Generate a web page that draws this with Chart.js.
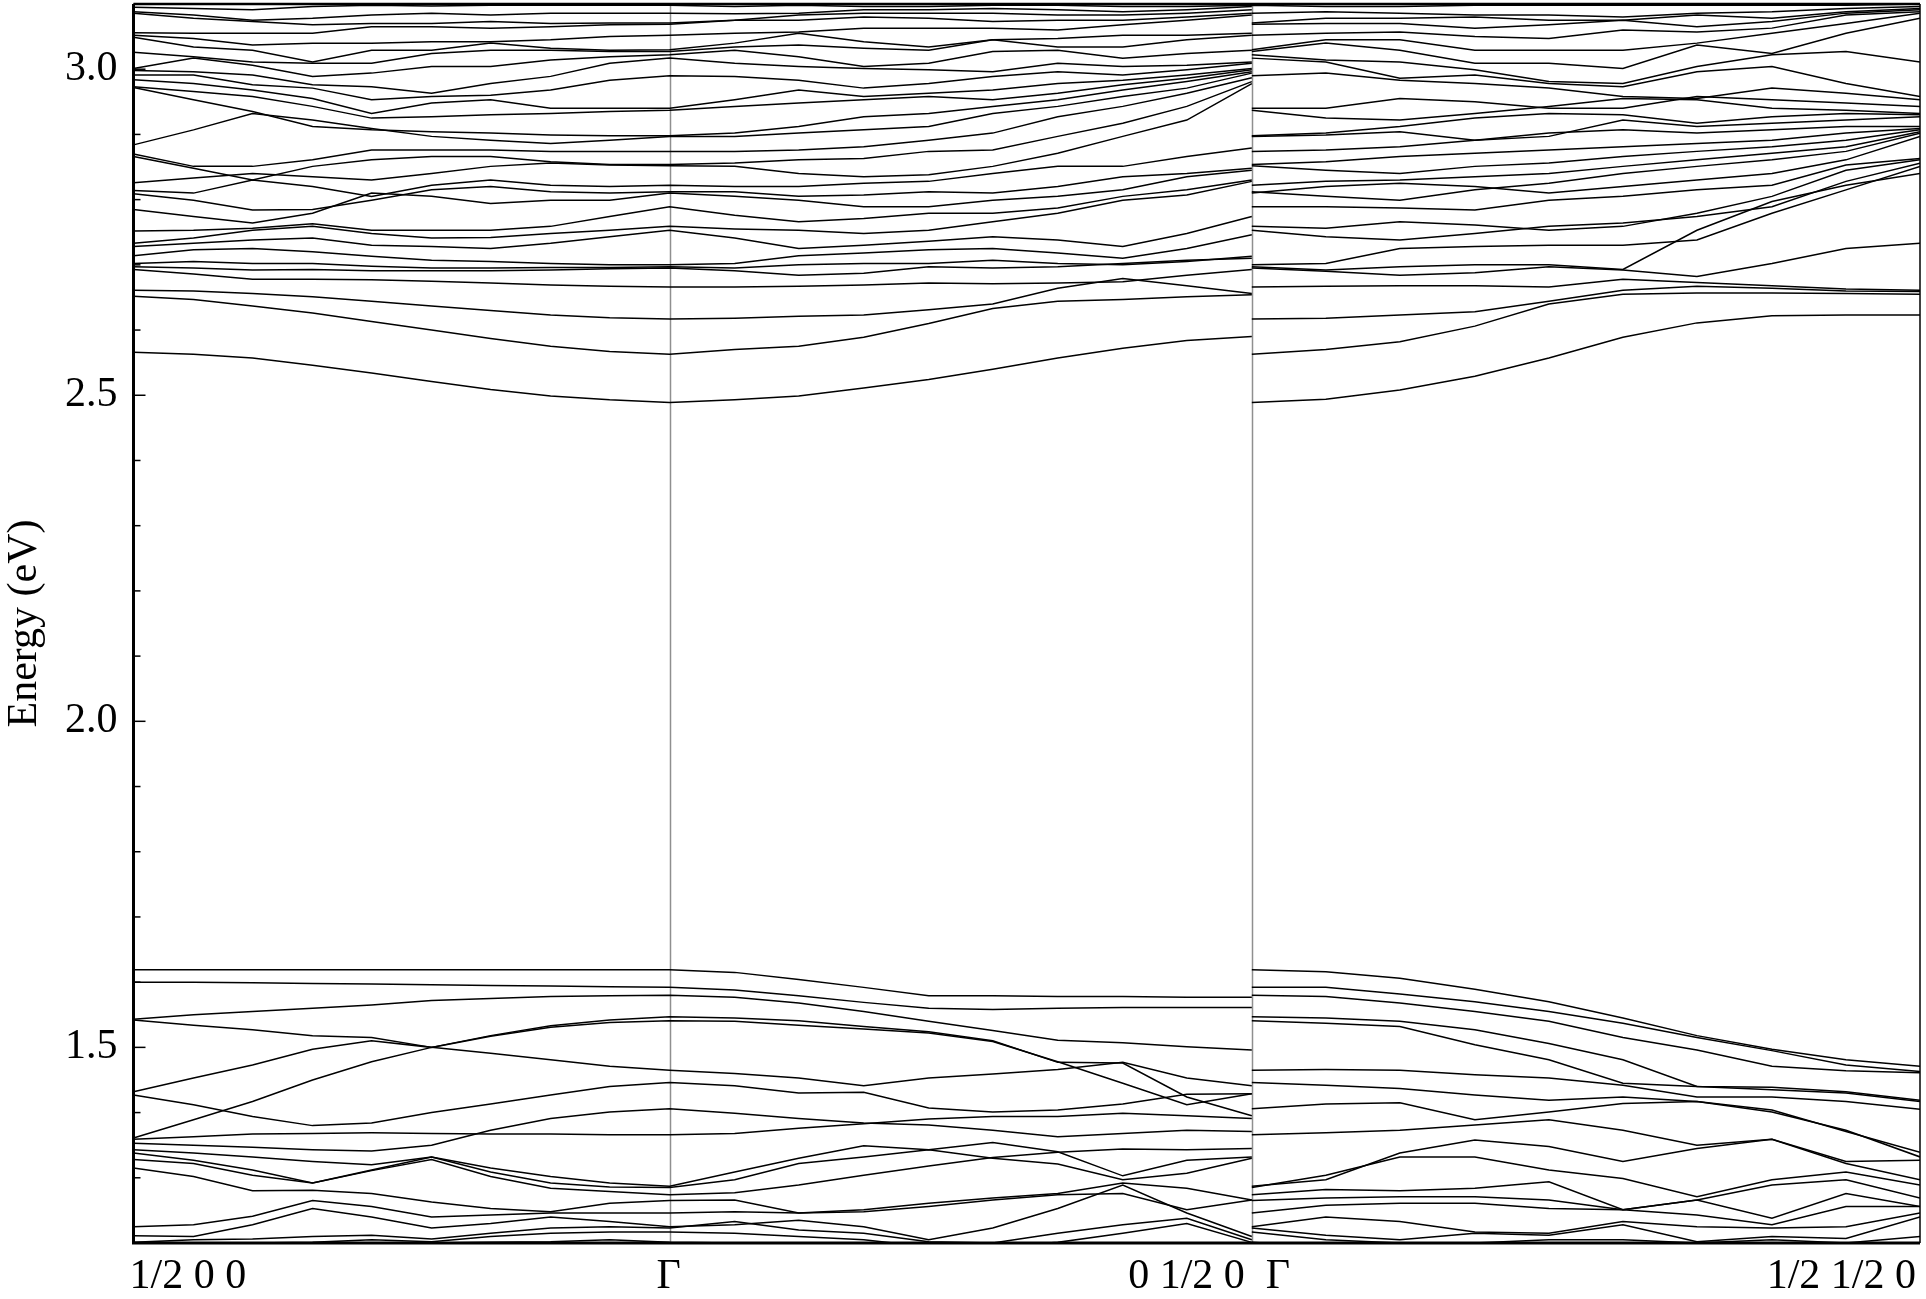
<!DOCTYPE html>
<html>
<head>
<meta charset="utf-8">
<title>Band structure</title>
<script src="https://cdn.jsdelivr.net/npm/chart.js@4.4.0/dist/chart.umd.min.js"></script>
<style>
  html, body { margin: 0; padding: 0; background: #fff; }
  #wrap { width: 1926px; height: 1299px; }
</style>
</head>
<body>
<div id="wrap"><canvas id="bandChart"></canvas></div>
<script>
(() => {
  'use strict'

  // k-path distances; seg1: 1/2 0 0 -> Γ, seg2: Γ -> 0 1/2 0, seg3: Γ -> 1/2 1/2 0
  const kSeg1 = [0.000, 0.060, 0.119, 0.179, 0.238, 0.298, 0.357, 0.417, 0.476, 0.536];
  const kSeg2 = [0.601, 0.665, 0.730, 0.795, 0.859, 0.924, 0.989, 1.053, 1.118];
  const kSeg3 = [1.192, 1.266, 1.341, 1.415, 1.489, 1.563, 1.638, 1.712, 1.786];
  const kDividers = [0.536, 1.118];
  const kLabelText = ['1/2 0 0', 'Γ', '0 1/2 0', 'Γ', '1/2 1/2 0'];
  const kLabelPos = [0.000, 0.536, 1.118, 1.118, 1.786];
  const energyLabels = [1.5, 2.0, 2.5, 3.0];

  // each band: 10 values on seg1 (Γ last), 9 on seg2, 9 on seg3 (all in eV)
  const vb01 = [1.619,1.619,1.619,1.619,1.619,1.619,1.619,1.619,1.619,1.619, 1.615,1.604,1.592,1.579,1.579,1.578,1.578,1.577,1.577, 1.616,1.606,1.589,1.570,1.545,1.518,1.497,1.481,1.471];
  const vb02 = [1.600,1.600,1.599,1.598,1.597,1.596,1.595,1.594,1.593,1.592, 1.588,1.579,1.569,1.560,1.558,1.560,1.561,1.561,1.561, 1.592,1.582,1.570,1.555,1.537,1.515,1.495,1.473,1.463];
  const vb03 = [1.543,1.550,1.555,1.560,1.565,1.572,1.575,1.578,1.579,1.580, 1.577,1.568,1.555,1.540,1.526,1.511,1.507,1.501,1.496, 1.578,1.568,1.555,1.540,1.515,1.496,1.471,1.464,1.461];
  const vb04 = [1.542,1.534,1.527,1.518,1.515,1.500,1.491,1.481,1.471,1.465, 1.460,1.453,1.441,1.453,1.459,1.466,1.477,1.453,1.441, 1.466,1.465,1.458,1.453,1.442,1.424,1.424,1.417,1.405];
  const vb05 = [1.432,1.453,1.473,1.497,1.510,1.500,1.517,1.531,1.538,1.541, 1.540,1.534,1.528,1.522,1.509,1.478,1.445,1.412,1.429, 1.537,1.532,1.504,1.481,1.445,1.440,1.435,1.430,1.417];
  const vb06 = [1.361,1.389,1.417,1.450,1.478,1.500,1.518,1.533,1.542,1.547, 1.545,1.541,1.532,1.524,1.510,1.477,1.476,1.424,1.395, 1.545,1.540,1.527,1.506,1.481,1.440,1.439,1.432,1.419];
  const vb07 = [1.427,1.412,1.394,1.380,1.384,1.400,1.413,1.427,1.440,1.446, 1.441,1.430,1.431,1.407,1.401,1.404,1.413,1.428,1.429, 1.442,1.437,1.427,1.419,1.424,1.417,1.404,1.371,1.339];
  const vb08 = [1.353,1.350,1.347,1.343,1.341,1.350,1.373,1.391,1.401,1.406, 1.399,1.391,1.384,1.381,1.373,1.363,1.368,1.373,1.371, 1.413,1.415,1.389,1.401,1.414,1.417,1.401,1.373,1.332];
  const vb09 = [1.359,1.363,1.367,1.368,1.369,1.368,1.367,1.367,1.366,1.366, 1.368,1.376,1.383,1.390,1.394,1.394,1.399,1.395,1.391, 1.369,1.373,1.381,1.389,1.373,1.350,1.359,1.325,1.327];
  const vb10 = [1.343,1.338,1.332,1.325,1.320,1.332,1.315,1.302,1.292,1.287, 1.309,1.330,1.349,1.343,1.354,1.340,1.303,1.327,1.332, 1.297,1.338,1.358,1.348,1.325,1.345,1.359,1.322,1.297];
  const vb11 = [1.338,1.327,1.312,1.292,1.312,1.332,1.309,1.292,1.286,1.285, 1.297,1.322,1.332,1.343,1.330,1.321,1.297,1.307,1.330, 1.304,1.332,1.332,1.312,1.299,1.271,1.297,1.309,1.289];
  const vb12 = [1.328,1.322,1.304,1.292,1.311,1.328,1.302,1.284,1.279,1.274, 1.277,1.289,1.304,1.318,1.331,1.339,1.344,1.343,1.345, 1.282,1.280,1.284,1.294,1.251,1.266,1.289,1.297,1.269];
  const vb13 = [1.315,1.302,1.280,1.281,1.276,1.263,1.253,1.248,1.261,1.265, 1.266,1.246,1.251,1.261,1.269,1.276,1.292,1.284,1.266, 1.269,1.271,1.271,1.266,1.251,1.266,1.238,1.276,1.256];
  const vb14 = [1.225,1.228,1.241,1.265,1.256,1.240,1.243,1.246,1.246,1.246, 1.248,1.246,1.248,1.256,1.266,1.274,1.276,1.251,1.266, 1.258,1.261,1.261,1.253,1.251,1.243,1.228,1.256,1.256];
  const vb15 = [1.211,1.210,1.228,1.253,1.240,1.223,1.230,1.240,1.233,1.225, 1.228,1.235,1.225,1.205,1.223,1.253,1.289,1.246,1.210, 1.240,1.233,1.217,1.215,1.233,1.225,1.223,1.225,1.246];
  const vb16 = [1.201,1.205,1.206,1.210,1.212,1.206,1.215,1.223,1.225,1.223, 1.233,1.220,1.215,1.202,1.200,1.215,1.228,1.238,1.205, 1.212,1.205,1.215,1.212,1.228,1.202,1.210,1.207,1.240];
  const vb17 = [1.194,1.197,1.200,1.201,1.205,1.202,1.210,1.215,1.217,1.217, 1.215,1.210,1.205,1.194,1.194,1.201,1.215,1.230,1.201, 1.205,1.200,1.200,1.205,1.205,1.200,1.205,1.200,1.210];
  const vb18 = [1.189,1.192,1.194,1.197,1.197,1.200,1.201,1.202,1.205,1.201, 1.200,1.194,1.189,1.189,1.189,1.189,1.200,1.189,1.189, 1.194,1.194,1.194,1.194,1.197,1.194,1.194,1.194,1.197];

  const cb01 = [2.566,2.563,2.557,2.546,2.534,2.521,2.509,2.499,2.493,2.489, 2.493,2.499,2.511,2.524,2.540,2.557,2.572,2.584,2.590, 2.494,2.508,2.529,2.557,2.589,2.611,2.622,2.623,2.623];
  const cb02 = [2.652,2.647,2.637,2.626,2.613,2.600,2.587,2.575,2.567,2.563, 2.570,2.575,2.589,2.610,2.633,2.644,2.647,2.651,2.654, 2.570,2.582,2.606,2.640,2.655,2.657,2.657,2.656,2.655];
  const cb03 = [2.661,2.660,2.656,2.651,2.644,2.637,2.630,2.623,2.619,2.617, 2.618,2.621,2.623,2.631,2.640,2.664,2.679,2.668,2.656, 2.618,2.623,2.628,2.644,2.661,2.667,2.664,2.660,2.659];
  const cb04 = [2.693,2.686,2.678,2.678,2.677,2.675,2.672,2.669,2.667,2.666, 2.666,2.667,2.669,2.672,2.671,2.672,2.674,2.684,2.693, 2.667,2.668,2.668,2.666,2.678,2.673,2.668,2.663,2.661];
  const cb05 = [2.697,2.695,2.692,2.693,2.691,2.691,2.691,2.692,2.694,2.695, 2.691,2.684,2.687,2.697,2.695,2.697,2.702,2.707,2.710, 2.690,2.684,2.688,2.697,2.692,2.682,2.702,2.725,2.733];
  const cb06 = [2.702,2.705,2.702,2.702,2.698,2.695,2.695,2.696,2.696,2.697, 2.695,2.700,2.702,2.702,2.707,2.702,2.700,2.705,2.713, 2.692,2.697,2.700,2.700,2.693,2.753,2.797,2.822,2.840];
  const cb07 = [2.714,2.723,2.725,2.720,2.713,2.707,2.705,2.702,2.700,2.700, 2.702,2.714,2.718,2.723,2.725,2.718,2.710,2.725,2.746, 2.702,2.725,2.728,2.730,2.730,2.738,2.779,2.815,2.851];
  const cb08 = [2.728,2.733,2.738,2.741,2.730,2.728,2.725,2.733,2.743,2.753, 2.741,2.725,2.730,2.736,2.743,2.738,2.728,2.748,2.774, 2.743,2.738,2.748,2.759,2.764,2.774,2.789,2.828,2.856];
  const cb09 = [2.733,2.741,2.753,2.759,2.748,2.741,2.742,2.748,2.753,2.759, 2.755,2.753,2.748,2.753,2.766,2.779,2.799,2.807,2.828, 2.756,2.766,2.761,2.753,2.759,2.779,2.805,2.845,2.861];
  const cb10 = [2.752,2.753,2.756,2.763,2.753,2.753,2.753,2.759,2.774,2.789, 2.776,2.766,2.771,2.779,2.779,2.787,2.805,2.815,2.830, 2.789,2.787,2.784,2.799,2.805,2.815,2.822,2.853,2.863];
  const cb11 = [2.785,2.774,2.764,2.779,2.810,2.805,2.794,2.799,2.799,2.810, 2.805,2.799,2.789,2.789,2.799,2.805,2.815,2.835,2.845, 2.820,2.825,2.820,2.810,2.820,2.830,2.840,2.861,2.897];
  const cb12 = [2.809,2.799,2.784,2.785,2.799,2.815,2.820,2.812,2.810,2.812, 2.812,2.805,2.807,2.812,2.810,2.820,2.835,2.840,2.848, 2.805,2.799,2.815,2.825,2.840,2.851,2.861,2.874,2.902];
  const cb13 = [2.814,2.810,2.830,2.820,2.805,2.822,2.830,2.822,2.820,2.822, 2.820,2.820,2.825,2.828,2.840,2.851,2.851,2.866,2.879, 2.828,2.830,2.835,2.840,2.851,2.861,2.871,2.881,2.904];
  const cb14 = [2.826,2.833,2.840,2.835,2.830,2.840,2.851,2.856,2.853,2.852, 2.851,2.840,2.835,2.838,2.851,2.871,2.897,2.922,2.978, 2.845,2.840,2.851,2.856,2.866,2.874,2.881,2.891,2.907];
  const cb15 = [2.866,2.848,2.830,2.851,2.861,2.866,2.866,2.858,2.854,2.854, 2.856,2.861,2.863,2.874,2.876,2.897,2.917,2.943,2.981, 2.858,2.866,2.871,2.876,2.881,2.886,2.891,2.902,2.909];
  const cb16 = [2.870,2.851,2.851,2.861,2.876,2.876,2.876,2.874,2.874,2.874, 2.874,2.876,2.881,2.891,2.902,2.927,2.943,2.963,2.987, 2.876,2.881,2.891,2.902,2.907,2.902,2.907,2.912,2.912];
  const cb17 = [2.884,2.907,2.932,2.922,2.909,2.897,2.891,2.886,2.891,2.897, 2.897,2.902,2.907,2.912,2.932,2.943,2.958,2.971,2.994, 2.899,2.904,2.891,2.897,2.922,2.912,2.917,2.922,2.927];
  const cb18 = [2.972,2.953,2.935,2.912,2.907,2.904,2.902,2.899,2.898,2.898, 2.902,2.912,2.927,2.932,2.943,2.953,2.968,2.981,2.996, 2.902,2.912,2.925,2.932,2.930,2.917,2.927,2.932,2.930];
  const cb19 = [2.973,2.966,2.958,2.943,2.925,2.927,2.930,2.932,2.935,2.937, 2.943,2.948,2.953,2.958,2.953,2.963,2.976,2.986,2.999, 2.925,2.922,2.932,2.943,2.955,2.953,2.940,2.937,2.932];
  const cb20 = [2.984,2.978,2.968,2.955,2.932,2.948,2.953,2.940,2.940,2.940, 2.953,2.968,2.958,2.963,2.968,2.978,2.983,2.991,3.001, 2.940,2.955,2.950,2.940,2.940,2.958,2.953,2.948,2.943];
  const cb21 = [2.991,2.991,2.976,2.971,2.953,2.958,2.960,2.968,2.983,2.990, 2.989,2.983,2.971,2.978,2.989,2.996,2.991,2.999,3.009, 2.994,2.983,2.978,2.971,2.958,2.955,2.971,2.963,2.953];
  const cb22 = [2.998,2.996,2.991,2.976,2.973,2.963,2.978,2.989,3.009,3.017, 3.009,3.004,3.001,2.999,2.996,3.009,3.004,3.006,3.011, 3.011,2.986,2.991,2.978,2.973,2.996,3.004,2.978,2.958];
  const cb23 = [3.001,3.017,3.006,2.989,2.994,3.004,3.004,3.014,3.019,3.022, 3.029,3.019,3.004,3.009,3.027,3.029,3.017,3.024,3.029, 3.014,3.011,2.999,2.981,2.978,3.004,3.022,3.027,3.011];
  const cb24 = [3.026,3.019,3.011,3.009,3.009,3.024,3.029,3.029,3.027,3.027, 3.034,3.037,3.032,3.029,3.045,3.034,3.034,3.045,3.052, 3.040,3.029,3.009,3.009,3.001,3.037,3.024,3.055,3.078];
  const cb25 = [3.049,3.034,3.029,3.011,3.029,3.029,3.040,3.032,3.029,3.030, 3.040,3.055,3.042,3.034,3.045,3.047,3.052,3.052,3.055, 3.045,3.045,3.029,3.029,3.029,3.040,3.055,3.070,3.086];
  const cb26 = [3.052,3.047,3.037,3.040,3.040,3.042,3.042,3.045,3.050,3.052, 3.055,3.057,3.063,3.063,3.063,3.060,3.068,3.075,3.083, 3.055,3.057,3.050,3.047,3.060,3.057,3.063,3.083,3.088];
  const cb27 = [3.056,3.055,3.055,3.055,3.065,3.065,3.063,3.065,3.068,3.069, 3.075,3.075,3.080,3.078,3.073,3.075,3.075,3.080,3.086, 3.070,3.070,3.063,3.068,3.075,3.065,3.073,3.086,3.091];
  const cb28 = [3.086,3.078,3.073,3.068,3.070,3.070,3.073,3.070,3.071,3.071, 3.075,3.083,3.086,3.086,3.086,3.083,3.083,3.086,3.091, 3.078,3.078,3.080,3.075,3.075,3.083,3.078,3.088,3.093];
  const cb29 = [3.088,3.083,3.075,3.078,3.083,3.086,3.083,3.086,3.086,3.086, 3.085,3.086,3.091,3.091,3.093,3.091,3.088,3.091,3.096, 3.088,3.086,3.083,3.083,3.080,3.086,3.088,3.093,3.096];
  const cb30 = [3.095,3.093,3.091,3.096,3.098,3.097,3.098,3.098,3.098,3.098, 3.096,3.098,3.096,3.096,3.098,3.098,3.096,3.096,3.098, 3.096,3.096,3.098,3.098,3.098,3.098,3.098,3.098,3.100];

  const valenceBands = [vb01, vb02, vb03, vb04, vb05, vb06, vb07, vb08, vb09,
    vb10, vb11, vb12, vb13, vb14, vb15, vb16, vb17, vb18];
  const conductionBands = [cb01, cb02, cb03, cb04, cb05, cb06, cb07, cb08, cb09, cb10,
    cb11, cb12, cb13, cb14, cb15, cb16, cb17, cb18, cb19, cb20,
    cb21, cb22, cb23, cb24, cb25, cb26, cb27, cb28, cb29, cb30];

  const FONT = '"Liberation Serif", "Times New Roman", serif';
  const isMajor = v => energyLabels.some(l => Math.abs(l - v) < 1e-6);

  // seg3 restarts at Γ, so break the line after seg2
  const toPoints = band => {
    const pts = kSeg1.map((k, i) => ({ x: k, y: band[i] }));
    kSeg2.forEach((k, i) => pts.push({ x: k, y: band[10 + i] }));
    pts.push({ x: kDividers[1], y: null });
    pts.push({ x: kDividers[1], y: band[9] });
    kSeg3.forEach((k, i) => pts.push({ x: k, y: band[19 + i] }));
    return pts;
  };

  const datasets = valenceBands.concat(conductionBands).map(b => ({
    data: toPoints(b),
    borderColor: '#000',
    borderWidth: 1.5,
    pointRadius: 0,
    fill: false,
    tension: 0,
    clip: 0
  }));

  const bandFrame = {
    id: 'bandFrame',
    beforeDatasetsDraw(chart) {
      const { ctx, chartArea: a, scales: { x } } = chart;
      ctx.save();
      ctx.strokeStyle = '#8f8f8f';
      ctx.lineWidth = 1.5;
      kDividers.forEach(k => {
        const px = Math.round(x.getPixelForValue(k)) + 0.5;
        ctx.beginPath();
        ctx.moveTo(px, a.top);
        ctx.lineTo(px, a.bottom);
        ctx.stroke();
      });
      ctx.restore();
    },
    afterDraw(chart) {
      const { ctx, chartArea: a, scales: { x, y } } = chart;
      ctx.save();
      ctx.strokeStyle = '#000';
      // box
      ctx.lineWidth = 3;
      ctx.beginPath();
      ctx.moveTo(a.left, a.top);
      ctx.lineTo(a.left, a.bottom);
      ctx.lineTo(a.right, a.bottom);
      ctx.stroke();
      ctx.lineWidth = 2.5;
      ctx.beginPath();
      ctx.moveTo(a.left, a.top);
      ctx.lineTo(a.right, a.top);
      ctx.stroke();
      ctx.lineWidth = 1.5;
      ctx.beginPath();
      ctx.moveTo(a.right, a.top);
      ctx.lineTo(a.right, a.bottom);
      ctx.stroke();
      // inward ticks
      ctx.lineWidth = 1.5;
      y.ticks.forEach(t => {
        const py = y.getPixelForValue(t.value);
        const len = isMajor(t.value) ? 12 : 7;
        ctx.beginPath();
        ctx.moveTo(a.left, py);
        ctx.lineTo(a.left + len, py);
        ctx.stroke();
      });
      // k-point labels
      const align = ['left', 'center', 'right', 'left', 'right'];
      const dx = [-4, -1, -7, 14, -4];
      ctx.font = '42px ' + FONT;
      ctx.fillStyle = '#000';
      ctx.textBaseline = 'alphabetic';
      kLabelText.forEach((txt, i) => {
        ctx.textAlign = align[i];
        ctx.fillText(txt, x.getPixelForValue(kLabelPos[i]) + dx[i], a.bottom + 45);
      });
      ctx.restore();
    }
  };

  const ctx1 = document.getElementById('bandChart');
  const bandChart = new Chart(ctx1, {
    type: 'line',
    data: { datasets },
    plugins: [bandFrame],
    options: {
      responsive: true,
      maintainAspectRatio: false,
      animation: false,
      devicePixelRatio: 1,
      events: [],
      layout: { padding: { top: 4, right: 6, bottom: 56, left: 0 } },
      scales: {
        x: {
          type: 'linear',
          display: false,
          min: kSeg1[0],
          max: kSeg3[kSeg3.length - 1]
        },
        y: {
          type: 'linear',
          min: 1.2,
          max: 3.1,
          afterFit: scale => {
            scale.width = 133.5;
            scale.paddingTop = 0;
            scale.paddingBottom = 0;
          },
          border: { display: false },
          grid: { display: false, drawTicks: false },
          ticks: {
            stepSize: 0.1,
            autoSkip: false,
            padding: 16,
            color: '#000',
            font: { family: FONT, size: 42 },
            callback: v => isMajor(v) ? v.toFixed(1) : ''
          },
          title: {
            display: true,
            text: 'Energy (eV)',
            color: '#000',
            padding: 0,
            font: { family: FONT, size: 42, lineHeight: 1.2 }
          }
        }
      },
      plugins: {
        legend: { display: false },
        tooltip: { enabled: false }
      }
    }
  });
})();
</script>
</body>
</html>
